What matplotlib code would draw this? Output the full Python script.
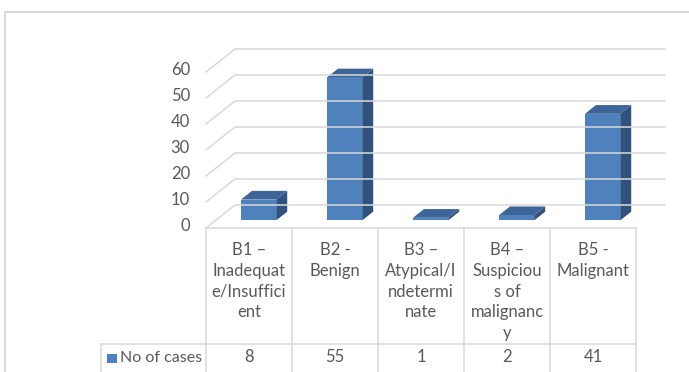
import matplotlib.pyplot as plt
from matplotlib.patches import Polygon, Rectangle

plt.rcParams['font.family'] = ['Lato', 'DejaVu Sans']

# data
categories = ["B1 –\nInadequat\ne/Insuffici\nent", "B2 -\nBenign",
              "B3 –\nAtypical/I\nndetermi\nnate",
              "B4 –\nSuspiciou\ns of\nmalignanc\ny", "B5 -\nMalignant"]
cases = [8, 55, 1, 2, 41]
series_name = "No of cases"
y_ticks = [0, 10, 20, 30, 40, 50, 60]

# geometry (pixels)
W, H = 689, 372
X0, Y0 = 206, 228        # front-left corner of floor
CW, VS = 86, 2.6         # px per category, px per unit
DXP, DYP = 29, 23        # depth offset of back wall in px
DX, DY = DXP / CW, DYP / VS   # same offset in data units
BW, D0, BD = 0.41, 0.33, 0.38  # bar width, front depth, bar depth

front_c = '#4F81BD'
top_c = '#3D6597'
side_c = '#30527F'
grid_c = '#D9D9D9'
text_c = '#595959'
fs = 12
n = len(categories)

fig = plt.figure(figsize=(W / 100, H / 100), dpi=100)

# pixel layer for frame and table
pxa = fig.add_axes([0, 0, 1, 1])
pxa.set_xlim(0, W)
pxa.set_ylim(H, 0)
pxa.axis('off')

# chart layer in category / value units
ax = fig.add_axes([0, 0, 1, 1])
ax.set_xlim(-X0 / CW, (W - X0) / CW)
ax.set_ylim((Y0 - H) / VS, Y0 / VS)
ax.axis('off')
ax.patch.set_visible(False)

# outer frame
pxa.plot([5, 5, W], [H, 12, 12], color=grid_c, lw=1.5)

# walls gridlines
for v in y_ticks:
    ax.plot([0, DX, DX + n], [v, v + DY, v + DY], color=grid_c, lw=1.1)
    ax.text(-16 / CW, v + 0.8, str(v), ha='right', va='center',
            fontsize=fs, color=text_c)

# bars
for i, v in enumerate(cases):
    xl = i + 0.5 - BW / 2 + D0 * DX
    yb = D0 * DY
    ox, oy = BD * DX, BD * DY
    side = [(xl + BW, yb), (xl + BW + ox, yb + oy),
            (xl + BW + ox, yb + v + oy), (xl + BW, yb + v)]
    top = [(xl, yb + v), (xl + BW, yb + v),
           (xl + BW + ox, yb + v + oy), (xl + ox, yb + v + oy)]
    ax.add_patch(Polygon(side, closed=True, fc=side_c, ec='none'))
    ax.add_patch(Polygon(top, closed=True, fc=top_c, ec='none'))
    ax.add_patch(Rectangle((xl, yb), BW, v, fc=front_c, ec='none'))

# data table
x_right = X0 + n * CW
pxa.plot([X0, x_right], [Y0, Y0], color=grid_c, lw=1.1)
pxa.plot([101, x_right], [344, 344], color=grid_c, lw=1.1)
pxa.plot([101, 101], [344, H], color=grid_c, lw=1.1)
for i in range(n + 1):
    xx = X0 + i * CW
    pxa.plot([xx, xx], [Y0, H], color=grid_c, lw=1.1)

for i, (lab, v) in enumerate(zip(categories, cases)):
    cx = X0 + (i + 0.5) * CW
    pxa.text(cx, 242, lab, ha='center', va='top', fontsize=fs,
             color=text_c, linespacing=1.37)
    pxa.text(cx, 357, str(v), ha='center', va='center', fontsize=fs,
             color=text_c)

pxa.add_patch(Rectangle((107, 354), 10, 9, fc=front_c, ec='none'))
pxa.text(120, 358, series_name, ha='left', va='center', fontsize=11.5,
         color=text_c)

fig.savefig('out.png', dpi=100)
